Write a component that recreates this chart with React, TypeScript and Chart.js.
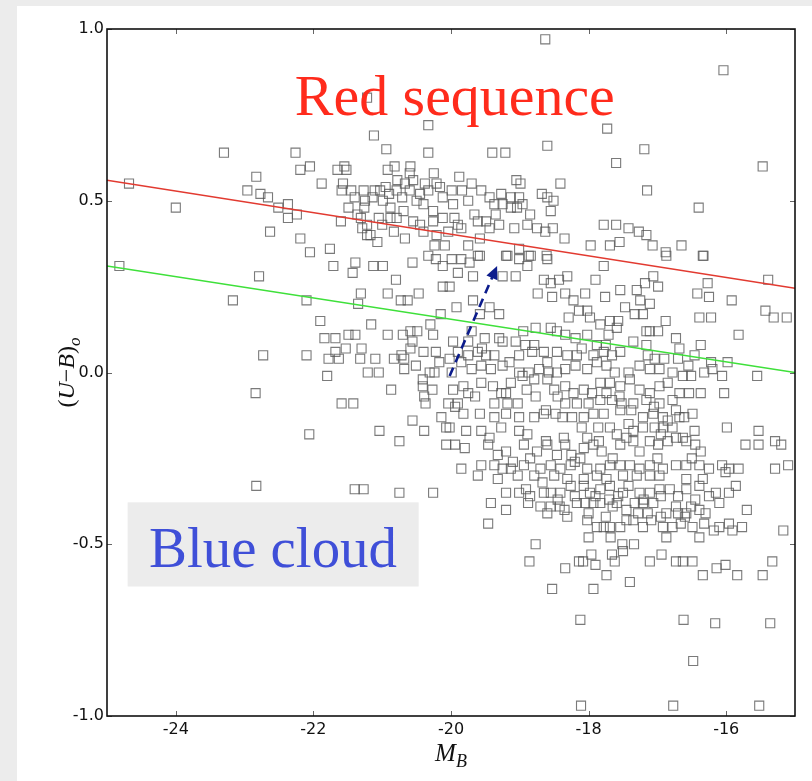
import React, { useEffect, useRef } from "react";
import { Chart, registerables } from "chart.js";

Chart.register(...registerables);

type Pt = [number, number];

// Axis ranges and tick positions
const xRange: Pt = [-25, -15];
const yRange: Pt = [-1, 1];
const xTicks = [-24, -22, -20, -18, -16];
const yTicks = [-1.0, -0.5, 0.0, 0.5, 1.0];

// Galaxies: [M_B, (U-B)_o]
const brightRed: Pt[] = [
  [-24.68, 0.55], [-24.0, 0.48], [-23.3, 0.64], [-22.26, 0.64], [-22.83, 0.57], [-22.96, 0.53],
  [-22.77, 0.52], [-22.66, 0.51], [-22.51, 0.48], [-22.37, 0.49], [-22.24, 0.46], [-22.37, 0.45],
  [-22.63, 0.41], [-22.19, 0.39], [-22.05, 0.35], [-21.76, 0.36], [-21.88, 0.55], [-21.6, 0.44],
  [-21.22, 0.8], [-20.33, 0.72], [-21.12, 0.69], [-20.94, 0.65], [-20.33, 0.64], [-22.19, 0.59],
  [-22.05, 0.6], [-21.65, 0.59], [-21.52, 0.59], [-21.55, 0.6], [-20.82, 0.6], [-20.59, 0.6],
  [-21.57, 0.55], [-21.59, 0.53], [-21.45, 0.53], [-21.49, 0.48], [-21.27, 0.53], [-21.25, 0.5],
  [-21.26, 0.48], [-21.11, 0.53], [-21.14, 0.51], [-21.03, 0.53], [-20.95, 0.54], [-20.99, 0.5],
  [-20.88, 0.48], [-20.92, 0.59], [-20.78, 0.56], [-20.67, 0.55], [-20.55, 0.56], [-20.6, 0.53],
  [-20.5, 0.5], [-20.38, 0.55], [-20.33, 0.53], [-20.21, 0.55], [-20.16, 0.54], [-20.12, 0.51],
  [-20.4, 0.49], [-20.71, 0.51], [-20.79, 0.53], [-21.31, 0.45], [-21.22, 0.43], [-21.17, 0.4],
  [-21.07, 0.38], [-21.05, 0.45], [-20.88, 0.45], [-20.79, 0.45], [-20.83, 0.41], [-20.67, 0.39],
  [-20.55, 0.44], [-20.45, 0.43], [-20.4, 0.41], [-20.26, 0.44], [-20.21, 0.4], [-20.12, 0.45],
  [-20.09, 0.37], [-20.24, 0.37], [-20.33, 0.34], [-21.22, 0.4], [-21.29, 0.42], [-21.36, 0.46],
  [-20.26, 0.47], [-20.69, 0.47], [-21.0, 0.43], [-20.6, 0.58], [-20.9, 0.52], [-21.4, 0.51],
  [-20.45, 0.52], [-20.25, 0.58],
];

const faintRed: Pt[] = [
  [-18.63, 0.97], [-16.04, 0.88], [-17.73, 0.71], [-18.6, 0.66], [-19.4, 0.64], [-19.21, 0.64],
  [-17.19, 0.65], [-17.6, 0.61], [-15.47, 0.6], [-17.15, 0.53], [-16.4, 0.48], [-18.41, 0.55],
  [-19.88, 0.57], [-19.99, 0.53], [-19.84, 0.53], [-19.7, 0.55], [-19.56, 0.53], [-19.44, 0.51],
  [-19.27, 0.52], [-19.13, 0.51], [-19.05, 0.56], [-18.99, 0.55], [-19.01, 0.51], [-18.96, 0.49],
  [-18.68, 0.52], [-18.6, 0.51], [-18.51, 0.5], [-18.55, 0.47], [-19.97, 0.49], [-19.37, 0.49],
  [-19.25, 0.49], [-19.13, 0.48], [-19.04, 0.48], [-19.95, 0.45], [-19.9, 0.43], [-19.66, 0.46],
  [-19.61, 0.44], [-19.49, 0.44], [-19.44, 0.42], [-19.3, 0.43], [-19.08, 0.42], [-18.89, 0.43],
  [-18.75, 0.42], [-18.63, 0.41], [-18.52, 0.42], [-18.35, 0.39], [-17.78, 0.43], [-17.6, 0.43],
  [-17.42, 0.42], [-17.27, 0.41], [-17.16, 0.4], [-17.07, 0.37], [-17.97, 0.37], [-17.69, 0.37],
  [-17.55, 0.38], [-16.88, 0.35], [-16.65, 0.37], [-16.33, 0.34], [-19.75, 0.37], [-19.58, 0.39],
  [-19.58, 0.34], [-19.18, 0.34], [-19.01, 0.36], [-18.87, 0.34], [-18.61, 0.34], [-20.04, 0.41],
  [-19.85, 0.42], [-19.75, 0.5], [-19.35, 0.46], [-18.85, 0.46],
];

const brightBlue: Pt[] = [
  [-24.82, 0.31], [-22.79, 0.28], [-23.17, 0.21], [-22.1, 0.21], [-21.35, 0.2], [-21.71, 0.31],
  [-21.39, 0.32], [-21.43, 0.29], [-21.13, 0.31], [-20.99, 0.31], [-20.56, 0.32], [-20.8, 0.27],
  [-21.31, 0.23], [-20.92, 0.23], [-20.73, 0.21], [-20.63, 0.21], [-20.47, 0.23], [-20.22, 0.33],
  [-20.12, 0.31], [-20.12, 0.25], [-20.15, 0.17], [-21.9, 0.15], [-21.16, 0.14], [-20.3, 0.14],
  [-21.84, 0.1], [-21.68, 0.1], [-21.49, 0.11], [-21.39, 0.11], [-20.92, 0.11], [-20.7, 0.11],
  [-20.59, 0.12], [-20.49, 0.12], [-20.26, 0.11], [-20.56, 0.09], [-21.68, 0.06], [-21.53, 0.07],
  [-21.3, 0.07], [-20.59, 0.07], [-20.4, 0.06], [-20.22, 0.06], [-22.73, 0.05], [-22.1, 0.05],
  [-21.78, 0.04], [-21.63, 0.04], [-21.32, 0.04], [-21.1, 0.04], [-20.83, 0.04], [-20.72, 0.05],
  [-20.68, 0.04], [-20.51, 0.02], [-20.17, 0.03], [-20.68, 0.01], [-20.31, 0.0], [-20.24, 0.0],
  [-21.8, -0.01], [-21.21, 0.0], [-21.05, 0.0], [-22.84, -0.06], [-20.41, -0.02], [-20.41, -0.04],
  [-20.27, -0.05], [-20.39, -0.07], [-20.37, -0.09], [-20.87, -0.05], [-21.59, -0.09], [-21.42, -0.09],
  [-20.56, -0.14], [-20.39, -0.17], [-20.14, -0.13], [-20.07, -0.16], [-20.07, -0.21], [-21.04, -0.17],
  [-20.75, -0.2], [-22.06, -0.18], [-22.83, -0.33], [-21.4, -0.34], [-21.27, -0.34], [-20.75, -0.35],
  [-20.26, -0.35],
];

const faintGreen: Pt[] = [
  [-19.99, 0.33], [-19.85, 0.33], [-19.73, 0.32], [-19.61, 0.34], [-19.9, 0.29], [-19.68, 0.28],
  [-19.2, 0.34], [-19.01, 0.33], [-18.89, 0.31], [-19.06, 0.28], [-18.84, 0.34], [-18.6, 0.33],
  [-19.25, 0.28], [-17.78, 0.31], [-17.9, 0.27], [-18.31, 0.28], [-18.43, 0.27], [-18.55, 0.26],
  [-18.65, 0.27], [-16.34, 0.34], [-16.87, 0.34], [-17.06, 0.28], [-16.99, 0.25], [-17.18, 0.26],
  [-15.39, 0.27], [-20.02, 0.25], [-18.74, 0.23], [-18.53, 0.22], [-18.34, 0.23], [-18.22, 0.21],
  [-18.05, 0.23], [-17.76, 0.22], [-17.54, 0.24], [-17.3, 0.24], [-17.25, 0.21], [-17.11, 0.2],
  [-16.42, 0.23], [-16.25, 0.22], [-15.92, 0.21], [-16.27, 0.26], [-19.68, 0.21], [-19.44, 0.19],
  [-19.92, 0.19], [-19.3, 0.17], [-19.58, 0.17], [-18.29, 0.16], [-18.14, 0.18], [-18.02, 0.18],
  [-17.98, 0.16], [-17.83, 0.14], [-17.69, 0.15], [-17.57, 0.15], [-17.47, 0.19], [-17.33, 0.17],
  [-17.21, 0.17], [-16.88, 0.15], [-16.99, 0.12], [-17.11, 0.12], [-16.39, 0.16], [-16.22, 0.16],
  [-15.43, 0.18], [-15.31, 0.16], [-15.12, 0.16], [-15.82, 0.11], [-19.7, 0.12], [-19.51, 0.1],
  [-19.25, 0.09], [-19.06, 0.09], [-18.92, 0.08], [-18.77, 0.13], [-18.79, 0.08], [-18.55, 0.13],
  [-18.46, 0.12], [-18.34, 0.11], [-18.19, 0.1], [-18.02, 0.11], [-17.71, 0.11], [-17.59, 0.13],
  [-17.16, 0.12], [-16.73, 0.1], [-16.68, 0.07], [-16.37, 0.08], [-17.75, 0.08], [-17.88, 0.08],
  [-19.75, 0.09], [-19.97, 0.09], [-19.55, 0.07], [-19.3, 0.1], [-18.95, 0.12], [-18.1, 0.07],
  [-17.35, 0.09],
];

const faintBlueUpper: Pt[] = [
  [-19.9, 0.06], [-19.75, 0.05], [-19.61, 0.06], [-19.49, 0.05], [-19.37, 0.05], [-19.15, 0.03],
  [-19.01, 0.05], [-18.82, 0.06], [-18.65, 0.06], [-18.46, 0.06], [-18.31, 0.05], [-18.17, 0.05],
  [-17.93, 0.05], [-17.78, 0.06], [-17.66, 0.05], [-17.54, 0.06], [-17.16, 0.08], [-17.04, 0.04],
  [-16.9, 0.04], [-17.14, 0.05], [-16.7, 0.04], [-16.46, 0.05], [-16.22, 0.03], [-15.98, 0.03],
  [-20.02, 0.04], [-19.85, 0.03], [-19.7, 0.01], [-19.56, 0.02], [-19.42, 0.01], [-19.25, 0.02],
  [-19.01, 0.0], [-18.87, 0.0], [-18.72, 0.01], [-18.58, 0.0], [-18.46, 0.0], [-18.34, 0.01],
  [-18.19, 0.02], [-18.02, 0.01], [-17.88, 0.03], [-17.74, 0.02], [-17.62, 0.0], [-17.42, 0.0],
  [-17.26, 0.02], [-17.11, 0.01], [-16.97, 0.01], [-16.78, 0.0], [-16.63, -0.01], [-16.51, -0.01],
  [-16.32, 0.0], [-16.2, 0.01], [-16.06, -0.01], [-15.55, -0.01], [-19.99, 0.0], [-19.97, -0.05],
  [-19.82, -0.04], [-19.56, -0.03], [-19.39, -0.04], [-19.27, -0.06], [-19.13, -0.03], [-18.96, -0.01],
  [-18.79, -0.02], [-18.6, -0.02], [-18.5, -0.05], [-18.34, -0.04], [-18.22, -0.06], [-18.07, -0.05],
  [-17.83, -0.03], [-17.69, -0.03], [-17.54, -0.04], [-17.4, -0.02], [-17.26, -0.05], [-17.11, -0.06],
  [-16.97, -0.04], [-16.85, -0.03], [-16.68, -0.06], [-16.54, -0.06], [-16.37, -0.06], [-16.03, -0.06],
  [-17.74, -0.06], [-20.04, -0.09], [-19.9, -0.09], [-19.75, -0.06], [-19.58, -0.12], [-19.37, -0.09],
  [-19.18, -0.09], [-19.03, -0.09], [-18.77, -0.07], [-18.62, -0.11], [-18.34, -0.09], [-18.17, -0.09],
  [-18.0, -0.09], [-17.83, -0.08], [-17.66, -0.08], [-17.52, -0.09], [-17.35, -0.09], [-17.16, -0.08],
  [-16.97, -0.09], [-16.78, -0.08], [-16.73, -0.11], [-16.49, -0.12], [-17.38, -0.11], [-18.6, 0.03],
  [-16.55, 0.02], [-19.65, -0.07], [-19.2, -0.06], [-18.9, -0.05], [-18.45, -0.07], [-17.95, -0.06],
  [-17.55, -0.07], [-17.05, -0.1], [-16.85, -0.14],
];

const faintBlueMiddle: Pt[] = [
  [-19.94, -0.1], [-19.82, -0.12], [-19.37, -0.13], [-19.2, -0.12], [-19.01, -0.13], [-18.79, -0.13],
  [-18.65, -0.12], [-18.48, -0.12], [-18.38, -0.13], [-18.24, -0.13], [-18.07, -0.13], [-17.93, -0.12],
  [-17.78, -0.12], [-17.54, -0.11], [-17.21, -0.13], [-17.06, -0.12], [-16.92, -0.13], [-16.68, -0.13],
  [-16.61, -0.13], [-20.02, -0.16], [-19.78, -0.17], [-19.56, -0.17], [-19.44, -0.19], [-19.27, -0.16],
  [-19.01, -0.17], [-18.89, -0.18], [-18.62, -0.2], [-18.36, -0.19], [-18.1, -0.16], [-18.02, -0.19],
  [-17.86, -0.16], [-17.69, -0.16], [-17.59, -0.18], [-17.42, -0.15], [-17.35, -0.17], [-17.21, -0.16],
  [-17.04, -0.16], [-16.92, -0.16], [-16.78, -0.16], [-16.63, -0.19], [-16.46, -0.17], [-15.99, -0.16],
  [-15.53, -0.17], [-19.94, -0.21], [-19.8, -0.22], [-19.46, -0.21], [-19.2, -0.23], [-18.94, -0.21],
  [-18.6, -0.21], [-18.34, -0.21], [-18.07, -0.22], [-17.93, -0.21], [-17.81, -0.23], [-17.54, -0.21],
  [-17.35, -0.2], [-17.26, -0.23], [-17.11, -0.2], [-16.99, -0.21], [-16.85, -0.2], [-16.73, -0.19],
  [-16.58, -0.2], [-16.37, -0.23], [-15.72, -0.21], [-15.53, -0.21], [-15.29, -0.2], [-15.2, -0.21],
  [-19.85, -0.28], [-19.56, -0.27], [-19.37, -0.27], [-19.25, -0.28], [-19.13, -0.28], [-18.94, -0.27],
  [-18.7, -0.28], [-18.55, -0.27], [-18.41, -0.28], [-18.26, -0.27], [-18.12, -0.25], [-18.02, -0.28],
  [-17.83, -0.28], [-17.69, -0.27], [-17.54, -0.27], [-17.4, -0.27], [-17.26, -0.28], [-17.11, -0.27],
  [-16.92, -0.28], [-16.73, -0.27], [-16.58, -0.27], [-16.39, -0.27], [-16.25, -0.28], [-16.06, -0.27],
  [-15.96, -0.28], [-15.82, -0.28], [-15.29, -0.28], [-15.1, -0.27], [-18.46, -0.24], [-19.32, -0.24],
  [-19.61, -0.3], [-19.32, -0.31], [-19.03, -0.3], [-18.79, -0.3], [-18.67, -0.32], [-18.5, -0.3],
  [-18.31, -0.31], [-18.07, -0.31], [-17.88, -0.3], [-17.74, -0.31], [-17.5, -0.3], [-17.3, -0.3],
  [-17.11, -0.3], [-16.97, -0.3], [-16.58, -0.31], [-16.34, -0.31], [-16.01, -0.29], [-19.1, -0.26],
  [-18.85, -0.25], [-18.2, -0.26], [-17.65, -0.25], [-17.0, -0.25], [-16.5, -0.25], [-18.75, -0.23],
  [-18.25, -0.24], [-17.85, -0.2], [-17.45, -0.19], [-16.95, -0.18], [-16.45, -0.21],
];

const faintBlueLower: Pt[] = [
  [-19.2, -0.35], [-19.01, -0.35], [-18.91, -0.34], [-18.65, -0.35], [-18.55, -0.35], [-18.41, -0.35],
  [-18.26, -0.33], [-18.07, -0.33], [-17.98, -0.35], [-17.83, -0.34], [-17.69, -0.33], [-17.57, -0.36],
  [-17.42, -0.33], [-17.26, -0.35], [-17.11, -0.35], [-16.97, -0.34], [-16.82, -0.34], [-16.58, -0.34],
  [-16.39, -0.33], [-16.15, -0.35], [-15.96, -0.35], [-15.86, -0.33], [-19.42, -0.38], [-19.2, -0.4],
  [-18.88, -0.38], [-18.7, -0.39], [-18.55, -0.39], [-18.42, -0.39], [-18.31, -0.42], [-18.17, -0.38],
  [-18.05, -0.38], [-17.93, -0.38], [-17.83, -0.38], [-17.65, -0.39], [-17.59, -0.38], [-17.33, -0.38],
  [-17.21, -0.38], [-17.06, -0.38], [-17.28, -0.41], [-17.14, -0.41], [-16.87, -0.41], [-16.73, -0.39],
  [-16.7, -0.41], [-16.58, -0.41], [-16.51, -0.39], [-16.39, -0.4], [-16.1, -0.38], [-19.46, -0.44],
  [-18.02, -0.43], [-17.88, -0.45], [-17.78, -0.45], [-17.69, -0.45], [-17.54, -0.45], [-17.45, -0.43],
  [-17.35, -0.43], [-17.21, -0.45], [-17.09, -0.43], [-16.92, -0.45], [-16.78, -0.45], [-16.66, -0.44],
  [-16.49, -0.45], [-16.32, -0.44], [-16.18, -0.46], [-16.1, -0.45], [-15.96, -0.44], [-15.91, -0.46],
  [-15.77, -0.45], [-15.17, -0.46], [-18.77, -0.5], [-18.0, -0.48], [-17.68, -0.48], [-17.51, -0.5],
  [-17.34, -0.5], [-16.87, -0.48], [-16.39, -0.48], [-18.86, -0.55], [-18.34, -0.57], [-18.14, -0.55],
  [-18.08, -0.55], [-17.96, -0.53], [-17.9, -0.56], [-17.74, -0.59], [-17.66, -0.53], [-17.62, -0.55],
  [-17.5, -0.52], [-17.4, -0.61], [-17.11, -0.55], [-16.94, -0.53], [-16.73, -0.55], [-16.63, -0.55],
  [-16.49, -0.55], [-16.34, -0.59], [-16.14, -0.57], [-16.01, -0.56], [-15.84, -0.59], [-15.47, -0.59],
  [-15.33, -0.55], [-18.53, -0.63], [-17.93, -0.63], [-18.12, -0.72], [-16.62, -0.72], [-16.16, -0.73],
  [-15.36, -0.73], [-16.48, -0.84], [-18.11, -0.97], [-16.77, -0.97], [-15.52, -0.97], [-18.85, -0.36],
  [-18.45, -0.37], [-18.2, -0.36], [-17.9, -0.36], [-17.7, -0.37], [-17.5, -0.35], [-17.2, -0.37],
  [-16.95, -0.36], [-16.7, -0.36], [-16.45, -0.37], [-16.25, -0.36], [-18.6, -0.41], [-18.35, -0.4],
  [-18.0, -0.41], [-17.75, -0.42], [-17.45, -0.4], [-16.95, -0.42], [-16.6, -0.42], [-16.3, -0.41],
  [-15.7, -0.4],
];

// Dividing lines and the evolution arrow, in data units
const redSequenceLine: Pt[] = [[-25, 0.56], [-15, 0.245]];
const greenValleyLine: Pt[] = [[-25, 0.31], [-15, 0.0]];
const evolutionArrow: Pt[] = [[-20.02, -0.01], [-19.33, 0.31]];

const galaxies: Pt[] = [
  ...brightRed, ...faintRed, ...brightBlue, ...faintGreen,
  ...faintBlueUpper, ...faintBlueMiddle, ...faintBlueLower,
];

const toXY = (pts: Pt[]) => pts.map(([x, y]) => ({ x, y }));

const TICK_FONT = { family: "'DejaVu Sans', sans-serif", size: 16 };
const SERIF = "'Liberation Serif', 'DejaVu Serif', serif";

type Run = { t: string; italic?: boolean; sub?: boolean };

function drawRuns(ctx: CanvasRenderingContext2D, runs: Run[], size: number) {
  const fontFor = (r: Run) =>
    `${r.italic ? "italic " : ""}${r.sub ? Math.round(size * 0.7) : size}px ${SERIF}`;
  let total = 0;
  const widths = runs.map((r) => {
    ctx.font = fontFor(r);
    const w = ctx.measureText(r.t).width;
    total += w;
    return w;
  });
  let x = -total / 2;
  runs.forEach((r, i) => {
    ctx.font = fontFor(r);
    ctx.fillText(r.t, x, r.sub ? size * 0.25 : 0);
    x += widths[i];
  });
}

function fittedText(
  ctx: CanvasRenderingContext2D,
  text: string,
  x: number,
  y: number,
  size: number,
  width: number,
  color: string
) {
  ctx.save();
  ctx.font = `${size}px ${SERIF}`;
  ctx.fillStyle = color;
  ctx.textAlign = "left";
  ctx.textBaseline = "alphabetic";
  const w = ctx.measureText(text).width;
  ctx.translate(x, y);
  ctx.scale(width / w, 1);
  ctx.fillText(text, 0, 0);
  ctx.restore();
}

const decorations = {
  id: "decorations",
  afterDatasetsDraw(chart: any) {
    const { ctx, scales } = chart;
    const xs = scales.x;
    const ys = scales.y;

    // arrow head at the end of the dashed track
    const [a, b] = evolutionArrow;
    const x0 = xs.getPixelForValue(a[0]);
    const y0 = ys.getPixelForValue(a[1]);
    const x1 = xs.getPixelForValue(b[0]);
    const y1 = ys.getPixelForValue(b[1]);
    const ang = Math.atan2(y1 - y0, x1 - x0);
    const len = 13;
    const half = 6;
    ctx.save();
    ctx.fillStyle = "#0c1c8c";
    ctx.beginPath();
    ctx.moveTo(x1, y1);
    ctx.lineTo(
      x1 - len * Math.cos(ang) + half * Math.sin(ang),
      y1 - len * Math.sin(ang) - half * Math.cos(ang)
    );
    ctx.lineTo(
      x1 - len * Math.cos(ang) - half * Math.sin(ang),
      y1 - len * Math.sin(ang) + half * Math.cos(ang)
    );
    ctx.closePath();
    ctx.fill();
    ctx.restore();

    // region labels
    fittedText(
      ctx,
      "Red sequence",
      xs.getPixelForValue(-22.27),
      ys.getPixelForValue(0.751),
      57,
      320,
      "#ff2b1c"
    );
    const bx0 = xs.getPixelForValue(-24.7);
    const bx1 = xs.getPixelForValue(-20.47);
    const by0 = ys.getPixelForValue(-0.378);
    const by1 = ys.getPixelForValue(-0.623);
    ctx.save();
    ctx.fillStyle = "#ececec";
    ctx.fillRect(bx0, by0, bx1 - bx0, by1 - by0);
    ctx.restore();
    fittedText(
      ctx,
      "Blue cloud",
      xs.getPixelForValue(-24.39),
      ys.getPixelForValue(-0.565),
      57,
      248,
      "#3f4fd8"
    );
  },
  afterDraw(chart: any) {
    const { ctx, chartArea: ca, scales } = chart;
    const xs = scales.x;
    const ys = scales.y;
    ctx.save();
    // inward ticks on all four sides
    ctx.strokeStyle = "#666";
    ctx.lineWidth = 1;
    ctx.beginPath();
    xTicks.forEach((v) => {
      const p = Math.round(xs.getPixelForValue(v)) + 0.5;
      ctx.moveTo(p, ca.bottom);
      ctx.lineTo(p, ca.bottom - 5);
      ctx.moveTo(p, ca.top);
      ctx.lineTo(p, ca.top + 5);
    });
    yTicks.forEach((v) => {
      const p = Math.round(ys.getPixelForValue(v)) + 0.5;
      ctx.moveTo(ca.left, p);
      ctx.lineTo(ca.left + 5, p);
      ctx.moveTo(ca.right, p);
      ctx.lineTo(ca.right - 5, p);
    });
    ctx.stroke();
    // frame
    ctx.strokeStyle = "#111";
    ctx.lineWidth = 1.6;
    ctx.strokeRect(ca.left, ca.top, ca.right - ca.left, ca.bottom - ca.top);

    // axis titles
    ctx.fillStyle = "#111";
    ctx.textAlign = "left";
    ctx.textBaseline = "alphabetic";
    ctx.save();
    ctx.translate((ca.left + ca.right) / 2, ca.bottom + 45);
    drawRuns(ctx, [{ t: "M", italic: true }, { t: "B", italic: true, sub: true }], 25);
    ctx.restore();

    ctx.save();
    ctx.translate(ca.left - 33, (ca.top + ca.bottom) / 2);
    ctx.rotate(-Math.PI / 2);
    drawRuns(
      ctx,
      [
        { t: "(" },
        { t: "U", italic: true },
        { t: "\u2212" },
        { t: "B", italic: true },
        { t: ")" },
        { t: "o", italic: true, sub: true },
      ],
      24
    );
    ctx.restore();
    ctx.restore();
  },
};

export default function App() {
  const ref = useRef<HTMLCanvasElement>(null);

  useEffect(() => {
    if (!ref.current) return;
    const lineDs = (pts: Pt[], color: string, extra: any = {}) => ({
      data: toXY(pts),
      showLine: true,
      borderColor: color,
      borderWidth: 1.5,
      pointRadius: 0,
      fill: false,
      ...extra,
    });
    const chart = new Chart(ref.current, {
      type: "scatter",
      data: {
        datasets: [
          lineDs(evolutionArrow, "#0c1c8c", { borderWidth: 2.6, borderDash: [9, 6], order: 0 }),
          lineDs(redSequenceLine, "#e23a30", { order: 1 }),
          lineDs(greenValleyLine, "#3ee03a", { order: 1 }),
          {
            data: toXY(galaxies),
            pointStyle: "rect",
            pointRadius: 6.4,
            borderWidth: 1.1,
            borderColor: "rgba(85,85,85,0.78)",
            backgroundColor: "rgba(0,0,0,0)",
            order: 2,
          },
        ],
      },
      options: {
        responsive: false,
        animation: false,
        events: [],
        layout: { padding: { top: 29, right: 17, left: 0, bottom: 0 } },
        plugins: { legend: { display: false }, tooltip: { enabled: false } },
        scales: {
          x: {
            type: "linear",
            min: xRange[0],
            max: xRange[1],
            afterBuildTicks: (s: any) => {
              s.ticks = xTicks.map((value) => ({ value }));
            },
            afterFit: (s: any) => {
              s.height = 65;
            },
            grid: { display: false, drawTicks: false },
            border: { display: false },
            ticks: {
              font: TICK_FONT,
              color: "#111",
              padding: 4,
              maxRotation: 0,
              callback: (v: any) => String(v),
            },
          },
          y: {
            type: "linear",
            min: yRange[0],
            max: yRange[1],
            afterBuildTicks: (s: any) => {
              s.ticks = yTicks.map((value) => ({ value }));
            },
            afterFit: (s: any) => {
              s.width = 107;
            },
            grid: { display: false, drawTicks: false },
            border: { display: false },
            ticks: {
              font: TICK_FONT,
              color: "#111",
              padding: 3,
              callback: (v: any) => Number(v).toFixed(1),
            },
          },
        },
      },
      plugins: [decorations],
    });
    return () => chart.destroy();
  }, []);

  return (
    <div
      style={{
        position: "fixed",
        left: 0,
        top: 0,
        width: 812,
        height: 781,
        background: "#ececec",
        overflow: "hidden",
      }}
    >
      <div
        style={{
          position: "absolute",
          left: 17,
          top: 6,
          width: 795,
          height: 775,
          background: "#ffffff",
        }}
      />
      <canvas
        ref={ref}
        width={812}
        height={781}
        style={{ position: "absolute", left: 0, top: 0 }}
      />
    </div>
  );
}
